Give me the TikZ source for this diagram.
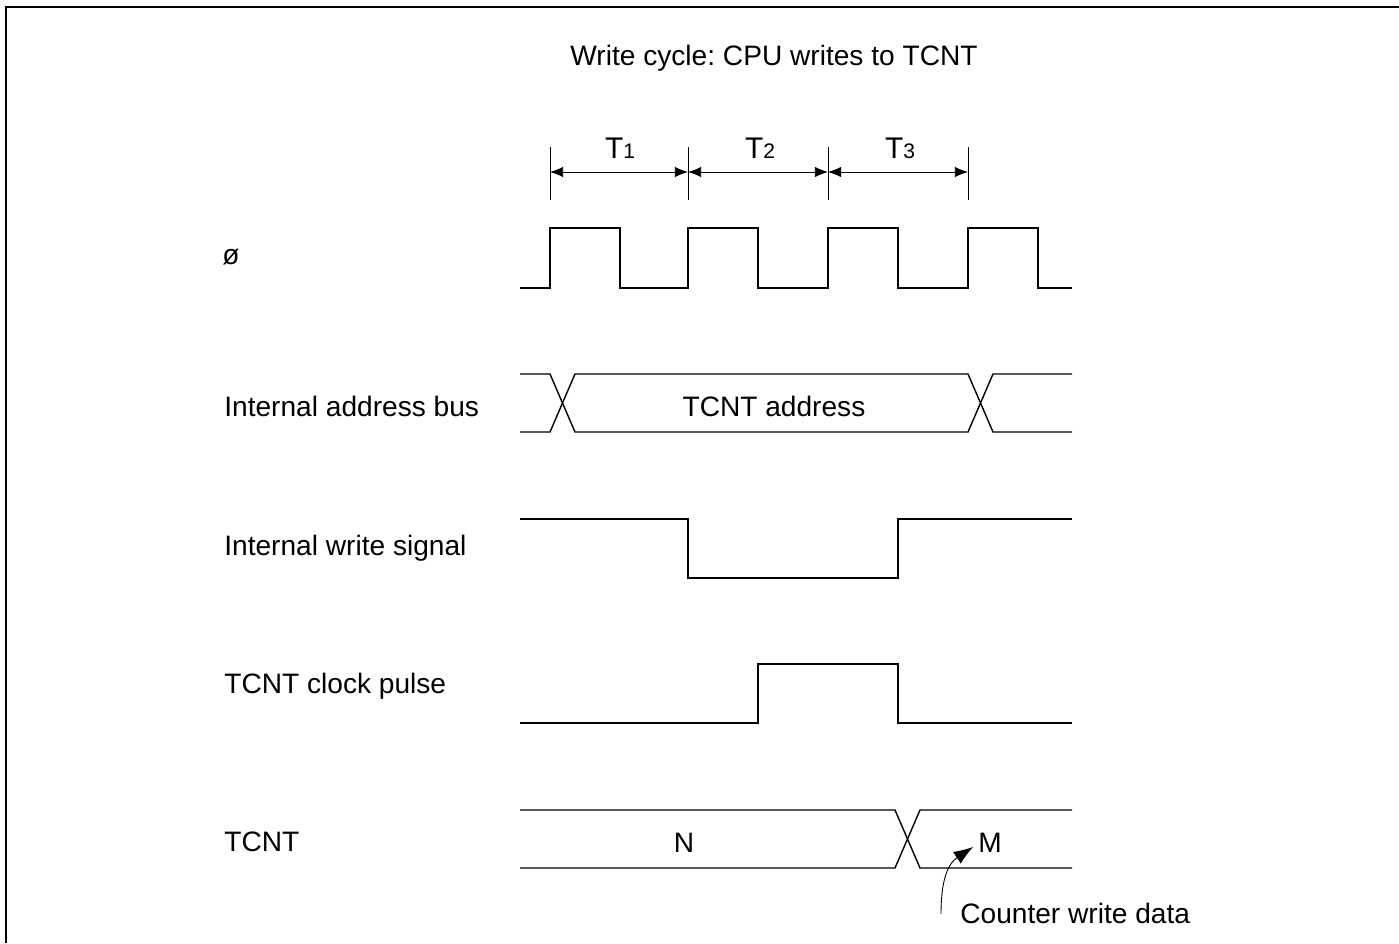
\documentclass[tikz,border=0pt]{standalone}
\usepackage{fontspec}
\setmainfont{Liberation Sans}
\usetikzlibrary{arrows.meta}
\frenchspacing

\begin{document}
\begin{tikzpicture}[x=0.02cm, y=-0.02cm,
    sig/.style={line width=0.8pt, line join=miter},
    lbl/.style={font=\fontsize{16}{19}\selectfont, inner sep=0pt},
    signame/.style={lbl, anchor=west},
    dim/.style={line width=0.5pt, {Latex[length=7.5pt,width=6pt]}-{Latex[length=7.5pt,width=6pt]}},
]
\useasboundingbox (0,0) rectangle (1399,943);
\draw[line width=1.3pt] (6,943) -- (6,7) -- (1399,7);

\node[lbl] (title) at (774,58) {Write cycle: CPU writes to TCNT};

% Cycle states
\coordinate (t0) at (550,172);
\coordinate (t1) at (688,172);
\coordinate (t2) at (828,172);
\coordinate (t3) at (968,172);
\foreach \c in {t0,t1,t2,t3}
  \draw[line width=0.5pt] ([yshift=14]\c) -- ([yshift=-16]\c);
\draw[dim] (t0) -- (t1);
\draw[dim] (t1) -- (t2);
\draw[dim] (t2) -- (t3);
\node[lbl, font=\fontsize{17}{20}\selectfont] (T1) at (620,148) {T{\fontsize{12}{14}\selectfont 1}};
\node[lbl, font=\fontsize{17}{20}\selectfont] (T2) at (760,148) {T{\fontsize{12}{14}\selectfont 2}};
\node[lbl, font=\fontsize{17}{20}\selectfont] (T3) at (900,148) {T{\fontsize{12}{14}\selectfont 3}};

% Signal names
\node[signame] (phi) at (222,257) {ø};
\node[signame] (addr) at (224,406) {Internal address bus};
\node[signame] (wr) at (224,548) {Internal write signal};
\node[signame] (clk) at (224,686) {TCNT clock pulse};
\node[signame] (cnt) at (224,842) {TCNT};

% Clock
\draw[sig] (520,288) -- (550,288) -- (550,228) -- (620,228) -- (620,288)
  -- (688,288) -- (688,228) -- (758,228) -- (758,288)
  -- (828,288) -- (828,228) -- (898,228) -- (898,288)
  -- (968,288) -- (968,228) -- (1038,228) -- (1038,288) -- (1072,288);

% Address bus
\draw[sig] (520,374) -- (550,374) -- (575,432) -- (968,432) -- (993,374) -- (1072,374);
\draw[sig] (520,432) -- (550,432) -- (575,374) -- (968,374) -- (993,432) -- (1072,432);
\node[lbl] (addrval) at (774,406) {TCNT address};

% Write signal
\draw[sig] (520,519) -- (688,519) -- (688,578) -- (898,578) -- (898,519) -- (1072,519);

% Counter clock
\draw[sig] (520,723) -- (758,723) -- (758,664) -- (898,664) -- (898,723) -- (1072,723);

% Counter value
\draw[sig] (520,810) -- (895,810) -- (920,868) -- (1072,868);
\draw[sig] (520,868) -- (895,868) -- (920,810) -- (1072,810);
\node[lbl] (valN) at (684,843) {N};
\node[lbl] (valM) at (990,843) {M};

\node[signame] (note) at (960,913) {Counter write data};
\coordinate (nt) at (941,914);
\coordinate (mt) at (973,847);
\draw[line width=0.5pt, -{Latex[length=11pt,width=8pt]}] (nt) .. controls (941,885) and (946,865) .. (mt);
\end{tikzpicture}
\end{document}
